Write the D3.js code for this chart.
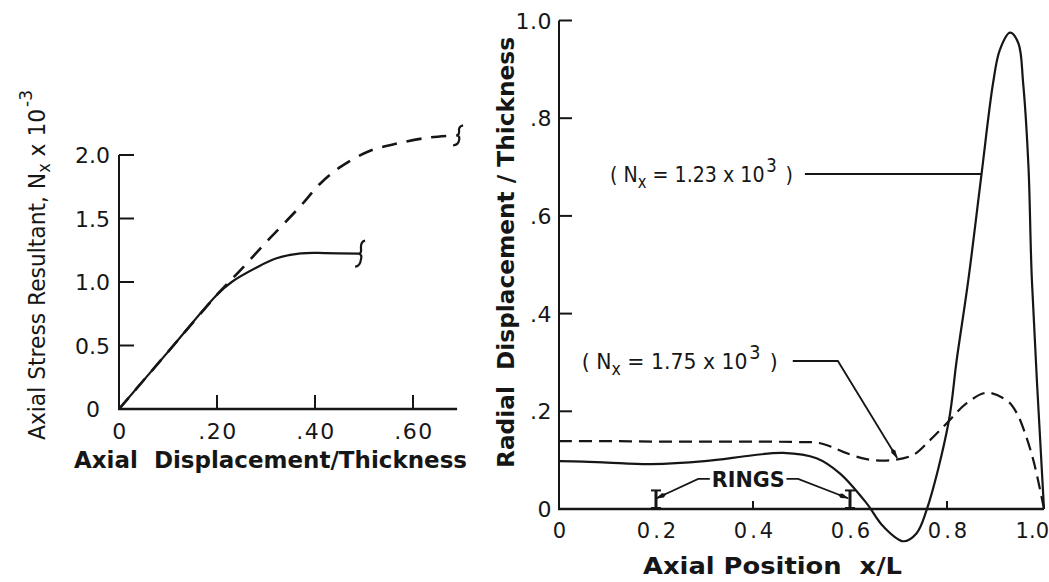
<!DOCTYPE html>
<html><head><meta charset="utf-8">
<script src="https://cdn.jsdelivr.net/npm/d3@7"></script>
<style>
body{margin:0;background:#fff}
svg{display:block}
text{font-family:"DejaVu Sans",sans-serif;fill:#161616;white-space:pre}
</style>
</head><body><svg id="c" width="1049" height="582"></svg>
<script>
// ---------- Left panel data ----------
const leftXTicks = [0, 0.2, 0.4, 0.6];
const leftXTickLabels = ["0", ".20", ".40", ".60"];
const leftYTicks = [0, 0.5, 1.0, 1.5, 2.0];
const leftYTickLabels = ["0", "0.5", "1.0", "1.5", "2.0"];
const leftXMax = 0.69;
const solidDisp = [0, 0.1, 0.2, 0.23, 0.279, 0.32, 0.371, 0.42, 0.49];
const solidNx   = [0, 0.45, 0.9, 1.0, 1.11, 1.185, 1.225, 1.228, 1.223];
const dashedDisp = [0, 0.1, 0.2, 0.247, 0.308, 0.37, 0.411, 0.452, 0.51, 0.567, 0.635, 0.69];
const dashedNx   = [0, 0.45, 0.9, 1.09, 1.345, 1.596, 1.776, 1.906, 2.03, 2.09, 2.139, 2.155];

// ---------- Right panel data ----------
const rightXTicks = [0, 0.2, 0.4, 0.6, 0.8, 1.0];
const rightXTickLabels = ["0", "0.2", "0.4", "0.6", "0.8", "1.0"];
const rightYTicks = [0, 0.2, 0.4, 0.6, 0.8, 1.0];
const rightYTickLabels = ["0", ".2", ".4", ".6", ".8", "1.0"];
const rightXMarks = [0.4, 0.8];
const ringPositions = [0.2, 0.6];
const pos123 = [0, 0.05, 0.1, 0.19, 0.3, 0.4, 0.4625, 0.531, 0.579, 0.634, 0.669, 0.71, 0.737, 0.758, 0.803, 0.82, 0.844, 0.871, 0.895, 0.909, 0.93, 0.947, 0.957, 0.968, 0.975, 1.0];
const disp123 = [0.098, 0.097, 0.095, 0.092, 0.098, 0.11, 0.115, 0.104, 0.073, 0.012, -0.036, -0.066, -0.05, -0.002, 0.176, 0.305, 0.469, 0.684, 0.872, 0.94, 0.975, 0.954, 0.872, 0.70, 0.469, 0];
const pos175 = [0, 0.1, 0.2, 0.3, 0.4, 0.5, 0.531, 0.56, 0.586, 0.634, 0.686, 0.731, 0.765, 0.80, 0.84, 0.882, 0.926, 0.944, 0.961, 0.978, 0.992, 1.0];
const disp175 = [0.139, 0.139, 0.138, 0.138, 0.138, 0.137, 0.136, 0.128, 0.117, 0.102, 0.100, 0.111, 0.141, 0.176, 0.216, 0.238, 0.22, 0.196, 0.155, 0.10, 0.039, 0];

const ink = "#161616";
const svg = d3.select("#c");

const Lx = d3.scaleLinear().domain([0, 0.6]).range([119, 413]);
const Ly = d3.scaleLinear().domain([0, 2]).range([409, 155]);
const Rx = d3.scaleLinear().domain([0, 1]).range([559, 1044]);
const Ry = d3.scaleLinear().domain([0, 1]).range([509, 20.5]);

// arrow marker
const defs = svg.append("defs");
defs.append("marker").attr("id", "arr").attr("viewBox", "0 -3 12 6")
  .attr("refX", 11).attr("refY", 0).attr("markerWidth", 12).attr("markerHeight", 6)
  .attr("markerUnits", "userSpaceOnUse").attr("orient", "auto")
  .append("path").attr("d", "M0,0 L4,-2.4 L12,0 L4,2.4 Z").attr("fill", ink);

// ================= LEFT PANEL =================
const gl = svg.append("g");
gl.append("line").attr("x1", Lx(0)).attr("x2", Lx(0)).attr("y1", Ly(0)).attr("y2", Ly(2))
  .attr("stroke", ink).attr("stroke-width", 2);
gl.append("line").attr("x1", Lx(0) - 1).attr("x2", Lx(leftXMax)).attr("y1", Ly(0)).attr("y2", Ly(0))
  .attr("stroke", ink).attr("stroke-width", 2.4);
gl.selectAll(".lyt").data(leftYTicks.filter(d => d > 0)).join("line")
  .attr("x1", Lx(0)).attr("x2", Lx(0) + 15).attr("y1", d => Ly(d)).attr("y2", d => Ly(d))
  .attr("stroke", ink).attr("stroke-width", 2);
gl.selectAll(".lxt").data(leftXTicks.filter(d => d > 0)).join("line")
  .attr("x1", d => Lx(d)).attr("x2", d => Lx(d)).attr("y1", Ly(0)).attr("y2", Ly(0) - 14)
  .attr("stroke", ink).attr("stroke-width", 2);
gl.selectAll(".lyl").data(leftYTicks).join("text")
  .attr("x", (d, i) => i === 0 ? Lx(0) - 19 : Lx(0) - 9).attr("y", d => Ly(d) + 8).attr("text-anchor", "end")
  .attr("font-size", 22).attr("fill", "#333")
  .text((d, i) => leftYTickLabels[i]);
gl.selectAll(".lxl").data(leftXTicks).join("text")
  .attr("x", d => Lx(d) + 1).attr("y", 439).attr("text-anchor", "middle")
  .attr("font-size", 22).attr("letter-spacing", 1.5)
  .text((d, i) => leftXTickLabels[i]);

const lineL = d3.line().x(d => Lx(d[0])).y(d => Ly(d[1])).curve(d3.curveCatmullRom.alpha(0.5));
gl.append("path").attr("d", lineL(dashedDisp.map((d, i) => [d, dashedNx[i]])))
  .attr("fill", "none").attr("stroke", ink).attr("stroke-width", 2.6).attr("stroke-dasharray", "15,10");
gl.append("path").attr("d", lineL(solidDisp.map((d, i) => [d, solidNx[i]])))
  .attr("fill", "none").attr("stroke", ink).attr("stroke-width", 2.2);

function brace(g, x, y, h) {
  g.append("path")
    .attr("d", `M${x + 6},${y - h} Q${x + 1},${y - h + 1} ${x + 2},${y - 4} Q${x + 2},${y} ${x},${y} Q${x + 3},${y + 1} ${x + 2},${y + 5} Q${x + 1},${y + h} ${x - 4},${y + h}`)
    .attr("fill", "none").attr("stroke", ink).attr("stroke-width", 2.2);
}
brace(gl, Lx(solidDisp[solidDisp.length - 1]), Ly(solidNx[solidNx.length - 1]), 13);
brace(gl, Lx(dashedDisp[dashedDisp.length - 1]), Ly(dashedNx[dashedNx.length - 1]), 10);

gl.append("text").attr("x", 74).attr("y", 468).attr("font-size", 23).attr("font-weight", 600)
  .attr("textLength", 393).attr("lengthAdjust", "spacingAndGlyphs")
  .text("Axial  Displacement/Thickness");

const yl = gl.append("text").attr("transform", "translate(45,440) rotate(-90)")
  .attr("font-size", 23).attr("textLength", 350).attr("lengthAdjust", "spacingAndGlyphs").attr("fill", "#333");
yl.append("tspan").text("Axial Stress Resultant, N");
yl.append("tspan").attr("dy", 5).attr("font-size", 17).text("x");
yl.append("tspan").attr("dy", -5).text(" x 10");
yl.append("tspan").attr("dy", -13).attr("dx", 2).attr("font-size", 18).text("-3");

// ================= RIGHT PANEL =================
const gr = svg.append("g");
gr.append("line").attr("x1", Rx(0)).attr("x2", Rx(0)).attr("y1", Ry(0)).attr("y2", Ry(1))
  .attr("stroke", ink).attr("stroke-width", 2);
gr.append("line").attr("x1", Rx(0) - 1).attr("x2", Rx(1)).attr("y1", Ry(0)).attr("y2", Ry(0))
  .attr("stroke", ink).attr("stroke-width", 2.6);
gr.selectAll(".ryt").data(rightYTicks.filter(d => d > 0)).join("line")
  .attr("x1", Rx(0)).attr("x2", Rx(0) + 13).attr("y1", d => Ry(d)).attr("y2", d => Ry(d))
  .attr("stroke", ink).attr("stroke-width", 2);
gr.selectAll(".rxt").data(rightXMarks).join("line")
  .attr("x1", d => Rx(d)).attr("x2", d => Rx(d)).attr("y1", Ry(0)).attr("y2", Ry(0) - 8)
  .attr("stroke", ink).attr("stroke-width", 2);
gr.selectAll(".ryl").data(rightYTicks).join("text")
  .attr("x", Rx(0) - 7).attr("y", d => Ry(d) + 8).attr("text-anchor", "end")
  .attr("font-size", 22).attr("letter-spacing", 0.5)
  .text((d, i) => rightYTickLabels[i]);
gr.selectAll(".rxl").data(rightXTicks).join("text")
  .attr("x", (d, i) => i === rightXTicks.length - 1 ? 1049 : Rx(d) + 2)
  .attr("y", 538).attr("text-anchor", (d, i) => i === rightXTicks.length - 1 ? "end" : "middle")
  .attr("font-size", 21).attr("letter-spacing", (d, i) => i === rightXTicks.length - 1 ? 0 : 3)
  .text((d, i) => rightXTickLabels[i]);

// rings (I-beam symbols)
const ringH = 0.038;
const rightRings = gr.selectAll(".ring").data(ringPositions).join("g");
rightRings.append("line").attr("x1", d => Rx(d)).attr("x2", d => Rx(d)).attr("y1", Ry(0)).attr("y2", Ry(ringH))
  .attr("stroke", ink).attr("stroke-width", 3);
rightRings.append("line").attr("x1", d => Rx(d) - 5).attr("x2", d => Rx(d) + 5).attr("y1", Ry(ringH)).attr("y2", Ry(ringH))
  .attr("stroke", ink).attr("stroke-width", 2);
rightRings.append("line").attr("x1", d => Rx(d) - 5).attr("x2", d => Rx(d) + 5).attr("y1", Ry(0) - 1).attr("y2", Ry(0) - 1)
  .attr("stroke", ink).attr("stroke-width", 2);

const lineR = d3.line().x(d => Rx(d[0])).y(d => Ry(d[1])).curve(d3.curveCatmullRom.alpha(0.5));
gr.append("path").attr("d", lineR(pos175.map((d, i) => [d, disp175[i]])))
  .attr("fill", "none").attr("stroke", ink).attr("stroke-width", 2.2).attr("stroke-dasharray", "13,7");
gr.append("path").attr("d", lineR(pos123.map((d, i) => [d, disp123[i]])))
  .attr("fill", "none").attr("stroke", ink).attr("stroke-width", 2.2);

// annotations (data coordinates)
const lab123 = {x: 0.105, y: 0.686, lineFrom: 0.507, lineTo: 0.871};
const lab175 = {x: 0.047, y: 0.303, lineFrom: 0.482, bend: 0.575, tipX: 0.697, tipY: 0.105};
const ringsLab = {x: 0.315, y: 0.0615, left: [0.311, 0.287, 0.201, 0.022], right: [0.469, 0.493, 0.596, 0.022]};

function nxLabel(g, lab, val, len) {
  const t = g.append("text").attr("x", Rx(lab.x)).attr("y", Ry(lab.y) + 8)
    .attr("font-size", 22).attr("textLength", len).attr("lengthAdjust", "spacingAndGlyphs");
  t.append("tspan").text("( N");
  t.append("tspan").attr("dy", 6).attr("font-size", 17).text("x");
  t.append("tspan").attr("dy", -6).text(" = " + val + " x 10");
  t.append("tspan").attr("dy", -10).attr("dx", 2).attr("font-size", 19).text("3");
  t.append("tspan").attr("dy", 10).attr("dx", 3).text(" )");
}
nxLabel(gr, lab123, "1.23", 183);
nxLabel(gr, lab175, "1.75", 196);

gr.append("line").attr("x1", Rx(lab123.lineFrom)).attr("x2", Rx(lab123.lineTo))
  .attr("y1", Ry(lab123.y)).attr("y2", Ry(lab123.y)).attr("stroke", ink).attr("stroke-width", 2);
gr.append("path")
  .attr("d", `M${Rx(lab175.lineFrom)},${Ry(lab175.y)} L${Rx(lab175.bend)},${Ry(lab175.y)} L${Rx(lab175.tipX)},${Ry(lab175.tipY)}`)
  .attr("fill", "none").attr("stroke", ink).attr("stroke-width", 1.8).attr("marker-end", "url(#arr)");

gr.append("text").attr("x", Rx(ringsLab.x)).attr("y", Ry(ringsLab.y) + 8)
  .attr("font-size", 21).attr("font-weight", 600).attr("textLength", 73).attr("lengthAdjust", "spacingAndGlyphs")
  .text("RINGS");
[ringsLab.left, ringsLab.right].forEach(a => {
  gr.append("path")
    .attr("d", `M${Rx(a[0])},${Ry(ringsLab.y)} L${Rx(a[1])},${Ry(ringsLab.y)} L${Rx(a[2])},${Ry(a[3])}`)
    .attr("fill", "none").attr("stroke", ink).attr("stroke-width", 1.8).attr("marker-end", "url(#arr)");
});

gr.append("text").attr("x", 643).attr("y", 574).attr("font-size", 23).attr("font-weight", 600)
  .attr("textLength", 259).attr("lengthAdjust", "spacingAndGlyphs")
  .text("Axial Position  x/L");
gr.append("text").attr("transform", "translate(514,468) rotate(-90)")
  .attr("font-size", 23).attr("font-weight", 600).attr("textLength", 431).attr("lengthAdjust", "spacingAndGlyphs")
  .text("Radial  Displacement / Thickness");
</script>
</body></html>
